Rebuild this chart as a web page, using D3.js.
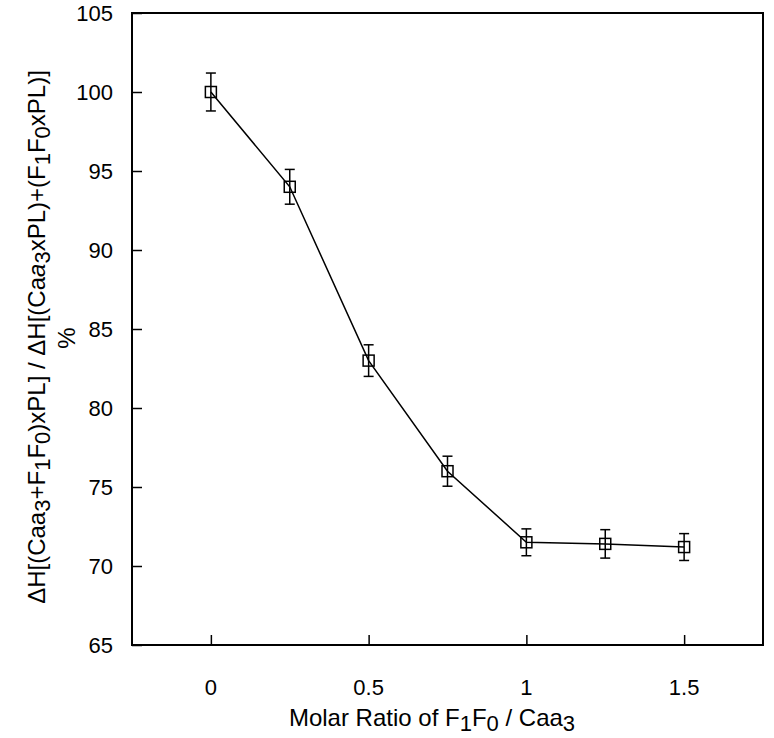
<!DOCTYPE html>
<html>
<head>
<meta charset="utf-8">
<script src="https://cdn.jsdelivr.net/npm/d3@7"></script>
<style>
  body { margin: 0; background: #fff; }
  svg { font-family: "Liberation Sans", Arial, sans-serif; }
</style>
</head>
<body>
<svg id="chart" width="774" height="738"></svg>
<script>
// データ
const ratio = [0, 0.25, 0.5, 0.75, 1, 1.25, 1.5];
const percent = [100, 94, 83, 76, 71.5, 71.4, 71.2];
const errors = [1.2, 1.1, 1.0, 0.95, 0.85, 0.9, 0.85];
const xTicks = [0, 0.5, 1, 1.5];
const yTicks = [65, 70, 75, 80, 85, 90, 95, 100, 105];

const svg = d3.select("#chart");
const plotLeft = 132, plotRight = 763, plotTop = 13, plotBottom = 645;

const x = d3.scaleLinear().domain([-0.25, 1.75]).range([plotLeft, plotRight]);
const y = d3.scaleLinear().domain([65, 105]).range([plotBottom, plotTop]);

/** 下付き文字を含むテキストを追加する
 *
 * @param {*} textSel text要素
 * @param {*} parts [文字列, 種類] 種類: 0=通常, 1=下付き, 2=斜体
 * @param {number} subSize 下付き文字のサイズ
 */
function addRich(textSel, parts, subSize) {
    let shifted = false;
    parts.forEach(([t, kind]) => {
        const ts = textSel.append("tspan").text(t);
        if (kind === 1) {
            ts.attr("dy", shifted ? 0 : 5).attr("font-size", subSize);
            shifted = true;
        } else {
            if (shifted) ts.attr("dy", -5);
            shifted = false;
            if (kind === 2) ts.attr("font-style", "italic");
        }
    });
}

// 枠
svg.append("rect")
    .attr("x", plotLeft).attr("y", plotTop)
    .attr("width", plotRight - plotLeft).attr("height", plotBottom - plotTop)
    .attr("fill", "none").attr("stroke", "#000").attr("stroke-width", 2);

// 軸（目盛りは内向き）
const yAxis = svg.append("g")
    .attr("transform", `translate(${plotLeft},0)`)
    .call(d3.axisRight(y).tickValues(yTicks).tickSize(10).tickFormat(""));
yAxis.select(".domain").remove();
yAxis.selectAll("line").attr("stroke-width", 1.5);

const xAxis = svg.append("g")
    .attr("transform", `translate(0,${plotBottom})`)
    .call(d3.axisTop(x).tickValues(xTicks).tickSize(10).tickFormat(""));
xAxis.select(".domain").remove();
xAxis.selectAll("line").attr("stroke-width", 1.5);

// 目盛りラベル
svg.selectAll(".ylab").data(yTicks).enter().append("text")
    .attr("x", 113).attr("y", d => y(d) + 8)
    .attr("text-anchor", "end").attr("font-size", 22)
    .text(d => d);

svg.selectAll(".xlab").data(xTicks).enter().append("text")
    .attr("x", d => x(d)).attr("y", 695)
    .attr("text-anchor", "middle").attr("font-size", 22)
    .text(d => d);

// x軸タイトル
const xt = svg.append("text")
    .attr("x", 432).attr("y", 726)
    .attr("text-anchor", "middle").attr("font-size", 24);
addRich(xt, [["Molar Ratio of F", 0], ["1", 1], ["F", 0], ["0", 1], [" / Caa", 0], ["3", 1]], 22);

// y軸タイトル（回転）
const yt = svg.append("text")
    .attr("transform", "translate(45,337) rotate(-90)")
    .attr("text-anchor", "middle").attr("font-size", 24);
addRich(yt, [
    ["ΔH[(Caa", 0], ["3", 1], ["+F", 0], ["1", 1], ["F", 0], ["0", 1],
    [")xPL] / ΔH[(Ca", 0], ["a", 2], ["3", 1], ["xPL)+(F", 0], ["1", 1],
    ["F", 0], ["0", 1], ["xPL)]", 0]
], 22);
svg.append("text")
    .attr("transform", "translate(75,338) rotate(-90)")
    .attr("text-anchor", "middle").attr("font-size", 24)
    .text("%");

// 折れ線
const line = d3.line().x(d => x(d[0])).y(d => y(d[1]));
const pts = ratio.map((r, i) => [r, percent[i], errors[i]]);
svg.append("path")
    .datum(pts)
    .attr("d", line)
    .attr("fill", "none").attr("stroke", "#000").attr("stroke-width", 1.5);

// 誤差棒
const eb = svg.append("g").attr("stroke", "#000").attr("stroke-width", 1.5);
pts.forEach(d => {
    const cx = x(d[0]);
    eb.append("line").attr("x1", cx).attr("x2", cx)
        .attr("y1", y(d[1] + d[2])).attr("y2", y(d[1] - d[2]));
    eb.append("line").attr("x1", cx - 5).attr("x2", cx + 5)
        .attr("y1", y(d[1] + d[2])).attr("y2", y(d[1] + d[2]));
    eb.append("line").attr("x1", cx - 5).attr("x2", cx + 5)
        .attr("y1", y(d[1] - d[2])).attr("y2", y(d[1] - d[2]));
});

// マーカー（白抜き四角）
svg.selectAll(".mk").data(pts).enter().append("rect")
    .attr("x", d => x(d[0]) - 5.5).attr("y", d => y(d[1]) - 5.5)
    .attr("width", 11).attr("height", 11)
    .attr("fill", "none")
    .attr("stroke", "#000").attr("stroke-width", 1.5);
</script>
</body>
</html>
